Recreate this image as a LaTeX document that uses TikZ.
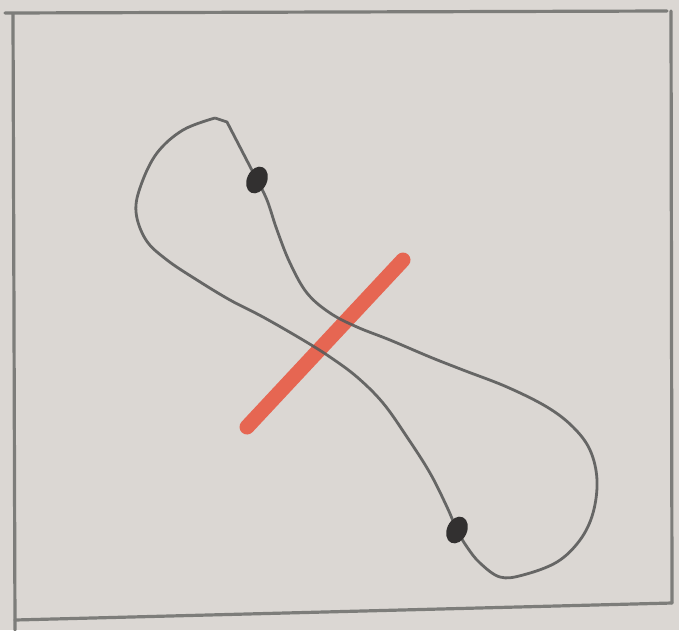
\documentclass[tikz,border=0pt]{standalone}
\definecolor{paper}{RGB}{219,215,211}
\definecolor{pencil}{RGB}{90,90,90}
\definecolor{framegrey}{RGB}{125,125,122}
\definecolor{redmark}{RGB}{230,102,82}
\definecolor{dotink}{RGB}{50,48,48}
\begin{document}
\begin{tikzpicture}[x=1pt,y=-1pt,
  framestyle/.style={draw=framegrey,line width=3.2pt,line cap=round},
  cordstyle/.style={draw=pencil,line width=2.8pt,line join=round,draw opacity=0.9},
  redstroke/.style={draw=redmark,line width=15pt,line cap=round},
  beadstyle/.style={fill=dotink}]
\fill[paper] (0,0) rectangle (679,630);
\useasboundingbox (0,0) rectangle (679,630);
% frame
\draw[framestyle] (5,13) -- (667,11);
\draw[framestyle] (13,14) -- (15,630);
\draw[framestyle] (15,620) -- (672,603);
\draw[framestyle] (671,11) -- (672,603);
% red mark (under the cord)
\coordinate (ra) at (403,260);
\coordinate (rb) at (247,427);
\draw[redstroke] (ra) -- (rb);
% cord
\draw[cordstyle] plot[smooth,tension=0.6] coordinates {
 (215,118) (183,130) (157,153) (141,185) (136,212) (146,240) (167,260)
 (197,280) (230,300) (263,317) (303,340) (330,357) (357,377) (383,403)
 (407,437) (430,473) (447,507) (457,530) (467,547) (480,563) (500,577)
 (523,575) (557,562) (580,540) (593,513) (597,480) (590,450) (573,427)
 (547,407) (507,387) (463,370) (430,357) (390,340) (357,327) (330,313)
 (307,293) (290,263) (277,230) (267,200) (257,180)}
 -- (227,122) -- (215,118);
% beads
\fill[beadstyle,rotate around={-25:(257,180)}] (257,180) ellipse (10 and 14);
\fill[beadstyle,rotate around={-25:(457,530)}] (457,530) ellipse (10 and 14);
\end{tikzpicture}
\end{document}
